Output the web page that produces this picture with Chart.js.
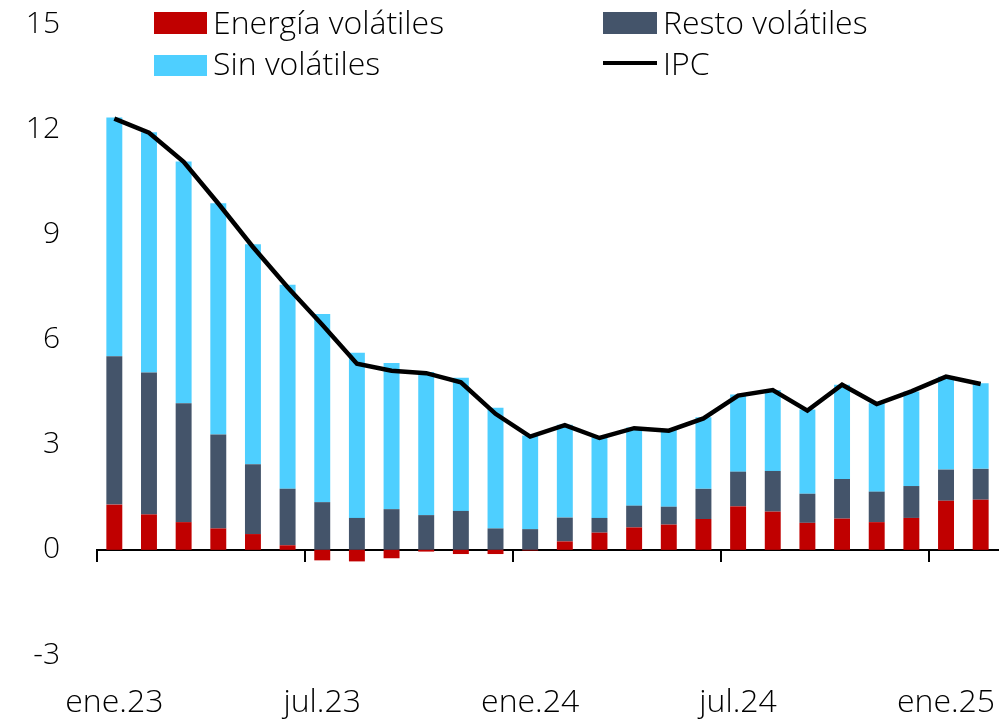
<!DOCTYPE html>
<html>
<head>
<meta charset="utf-8">
<script src="https://cdn.jsdelivr.net/npm/chart.js@4"></script>
<style>
  html, body { margin: 0; padding: 0; background: #fff; }
  #wrap { position: relative; width: 1008px; height: 722px; overflow: hidden; }
  #c { position: absolute; left: 0; top: 0; }
  .lg { position: absolute; font-family: 'Open Sans', sans-serif; font-weight: 300; font-size: 32px; line-height: 32px; color: #000; white-space: nowrap; }
  .sw { position: absolute; }
</style>
</head>
<body>
<div id="wrap">
  <canvas id="c" width="1008" height="722"></canvas>
  <div class="sw" style="left:154px;top:12px;width:53px;height:22px;background:#C00000"></div>
  <div class="lg" style="left:213px;top:6px">Energía volátiles</div>
  <div class="sw" style="left:603px;top:12px;width:54px;height:22px;background:#44546A"></div>
  <div class="lg" style="left:663px;top:6px">Resto volátiles</div>
  <div class="sw" style="left:154px;top:55px;width:53px;height:21px;background:#4ECFFF"></div>
  <div class="lg" style="left:213px;top:47px">Sin volátiles</div>
  <div class="sw" style="left:603px;top:61px;width:54px;height:4px;background:#000"></div>
  <div class="lg" style="left:663px;top:47px">IPC</div>
</div>
<script>
const categories = [
  'ene.23','feb.23','mar.23','abr.23','may.23','jun.23','jul.23','ago.23','sep.23','oct.23','nov.23','dic.23',
  'ene.24','feb.24','mar.24','abr.24','may.24','jun.24','jul.24','ago.24','sep.24','oct.24','nov.24','dic.24',
  'ene.25','feb.25'
];
const energiaVolatiles = [1.29, 1.01, 0.79, 0.61, 0.45, 0.13, -0.30, -0.33, -0.24, -0.05, -0.12, -0.12, -0.02,
  0.24, 0.49, 0.64, 0.72, 0.88, 1.24, 1.09, 0.77, 0.89, 0.79, 0.91, 1.40, 1.43];
const restoVolatiles = [4.23, 4.05, 3.39, 2.68, 1.99, 1.61, 1.36, 0.91, 1.16, 0.99, 1.11, 0.61, 0.59,
  0.68, 0.42, 0.62, 0.51, 0.86, 0.99, 1.16, 0.83, 1.13, 0.87, 0.91, 0.89, 0.88];
const sinVolatiles = [6.81, 6.85, 6.90, 6.60, 6.28, 5.82, 5.37, 4.71, 4.17, 4.08, 3.80, 3.44, 2.67,
  2.65, 2.30, 2.23, 2.19, 2.04, 2.20, 2.31, 2.40, 2.69, 2.52, 2.70, 2.65, 2.44];
const ipc = [12.30, 11.90, 11.07, 9.88, 8.64, 7.49, 6.42, 5.31, 5.11, 5.04, 4.78, 3.88, 3.23,
  3.56, 3.19, 3.47, 3.40, 3.75, 4.40, 4.56, 3.97, 4.71, 4.16, 4.52, 4.94, 4.73];
const labelEvery = 6;
const yTicks = { min: -3, max: 15, step: 3 };

const fontX = { family: 'Open Sans', size: 32, weight: '300' };
const fontY = { family: 'Open Sans', size: 30, weight: '300' };

function noPad(s) { s.paddingLeft = 0; s.paddingRight = 0; s.paddingTop = 0; s.paddingBottom = 0; }

new Chart(document.getElementById('c'), {
  type: 'bar',
  data: {
    labels: categories,
    datasets: [
      { type: 'line', label: 'IPC', data: ipc, borderColor: '#000', borderWidth: 4.5, pointRadius: 0,
        tension: 0, fill: false, order: 0, stack: 'ipc', borderCapStyle: 'butt', borderJoinStyle: 'miter' },
      { label: 'Energía volátiles', data: energiaVolatiles, backgroundColor: '#C00000', order: 1, stack: 's' },
      { label: 'Resto volátiles', data: restoVolatiles, backgroundColor: '#44546A', order: 1, stack: 's' },
      { label: 'Sin volátiles', data: sinVolatiles, backgroundColor: '#4ECFFF', order: 1, stack: 's' }
    ]
  },
  options: {
    responsive: false,
    animation: false,
    layout: { padding: { left: 0, right: 10, top: 24, bottom: 0 } },
    datasets: { bar: { barPercentage: 0.46, categoryPercentage: 1.0 } },
    plugins: { legend: { display: false }, tooltip: { enabled: false } },
    scales: {
      x: {
        stacked: true,
        offset: true,
        position: 'bottom',
        grid: { display: false, drawTicks: false },
        border: { display: false },
        ticks: {
          autoSkip: false, maxRotation: 0, minRotation: 0, padding: 29, color: '#000', font: fontX,
          callback: function (v, i) { return i % labelEvery === 0 ? this.getLabelForValue(v) : null; }
        },
        afterFit: (s) => { s.height = 67; noPad(s); }
      },
      x2: {
        type: 'category',
        labels: categories,
        position: { y: 0 },
        offset: true,
        grid: {
          offset: true, drawOnChartArea: false, drawTicks: true, tickLength: 11, lineWidth: 2,
          color: (ctx) => (ctx.index % labelEvery === 0 && ctx.index < categories.length) ? '#000' : 'rgba(0,0,0,0)'
        },
        border: { display: true, color: '#000', width: 2 },
        ticks: { display: false },
        afterFit: (s) => { noPad(s); }
      },
      y: {
        stacked: true,
        min: yTicks.min, max: yTicks.max,
        grid: { display: false, drawTicks: false },
        border: { display: false },
        ticks: { stepSize: yTicks.step, padding: 37, color: '#000', font: fontY, crossAlign: 'near' },
        afterFit: (s) => { s.width = 97; noPad(s); }
      }
    }
  }
});
</script>
</body>
</html>
